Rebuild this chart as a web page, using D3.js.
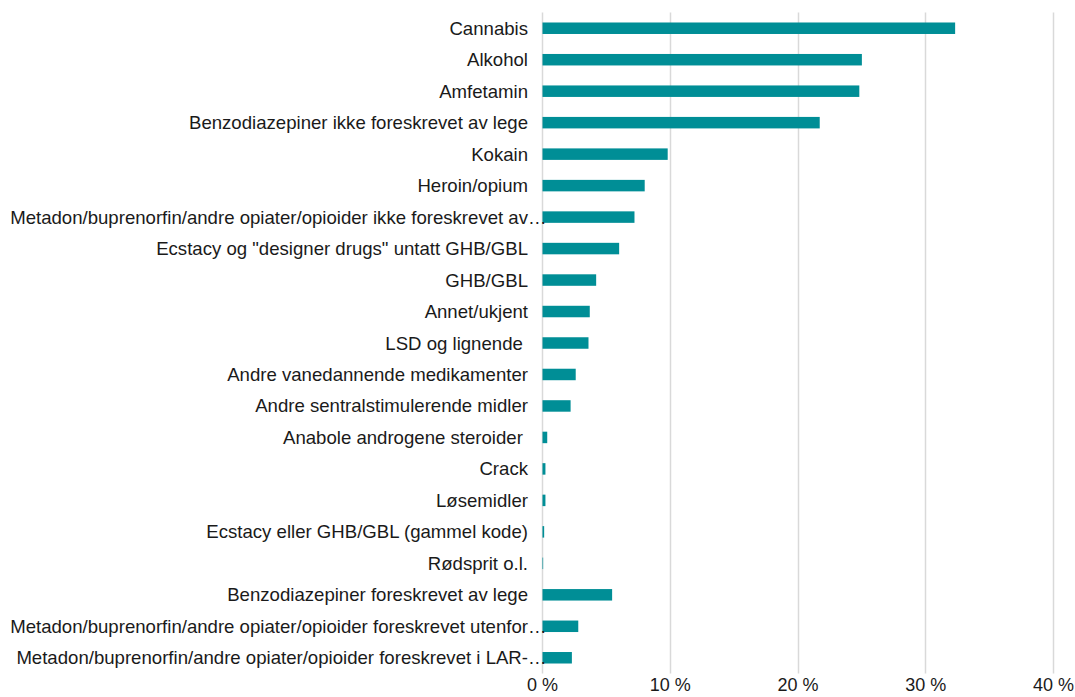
<!DOCTYPE html>
<html>
<head>
<meta charset="utf-8">
<script src="https://cdn.jsdelivr.net/npm/d3@7"></script>
<style>
  body { margin: 0; background: #fff; }
  svg text { font-family: "Liberation Sans", Arial, Helvetica, sans-serif; fill: #1a1a1a; }
</style>
</head>
<body>
<div id="chart"></div>
<script>
// Categories (top to bottom) and their shares
var categories = [
  "Cannabis",
  "Alkohol",
  "Amfetamin",
  "Benzodiazepiner ikke foreskrevet av lege",
  "Kokain",
  "Heroin/opium",
  "Metadon/buprenorfin/andre opiater/opioider ikke foreskrevet av…",
  "Ecstacy og \"designer drugs\" untatt GHB/GBL",
  "GHB/GBL",
  "Annet/ukjent",
  "LSD og lignende ",
  "Andre vanedannende medikamenter",
  "Andre sentralstimulerende midler",
  "Anabole androgene steroider ",
  "Crack",
  "Løsemidler",
  "Ecstacy eller GHB/GBL (gammel kode)",
  "Rødsprit o.l.",
  "Benzodiazepiner foreskrevet av lege",
  "Metadon/buprenorfin/andre opiater/opioider foreskrevet utenfor…",
  "Metadon/buprenorfin/andre opiater/opioider foreskrevet i LAR-…"
];

var shares = [
  0.323, 0.250, 0.248, 0.217, 0.098, 0.080, 0.072, 0.060, 0.042, 0.037,
  0.036, 0.026, 0.022, 0.0037, 0.0023, 0.0023, 0.0013, 0.0005, 0.0545,
  0.028, 0.023
];

var tickValues = [0, 0.1, 0.2, 0.3, 0.4];

var svgWidth = 1075;
var svgHeight = 697;

var margin = { top: 12.5, right: 22, bottom: 23.5, left: 542 };
var chartWidth = svgWidth - margin.left - margin.right;
var chartHeight = svgHeight - margin.top - margin.bottom;

var data = categories.map(function(c, i) {
  return { label: c, value: shares[i] };
});

var svg = d3.select("#chart")
  .append("svg")
  .attr("width", svgWidth)
  .attr("height", svgHeight);

var chartGroup = svg.append("g")
  .attr("transform", `translate(${margin.left}, ${margin.top})`);

var xScale = d3.scaleLinear()
  .domain([0, 0.4])
  .range([0, chartWidth]);

var yScale = d3.scaleBand()
  .domain(categories)
  .range([0, chartHeight])
  .paddingInner(0.635)
  .paddingOuter(0.3175);

// gridlines
chartGroup.selectAll(".grid")
  .data(tickValues)
  .enter()
  .append("line")
  .attr("x1", d => Math.round(xScale(d)) + 0.5)
  .attr("x2", d => Math.round(xScale(d)) + 0.5)
  .attr("y1", 0)
  .attr("y2", chartHeight)
  .attr("stroke", "#d9d9d9")
  .attr("stroke-width", 1.5);

// bars
chartGroup.selectAll("rect")
  .data(data)
  .enter()
  .append("rect")
  .attr("x", xScale(0) + 0.5)
  .attr("y", d => yScale(d.label))
  .attr("width", d => xScale(d.value))
  .attr("height", yScale.bandwidth())
  .attr("fill", "#008e96");

// category labels
var labelX = -14;
chartGroup.selectAll(".cat")
  .data(data)
  .enter()
  .append("text")
  .attr("class", "cat")
  .attr("x", labelX)
  .attr("y", d => yScale(d.label) + yScale.bandwidth() / 2)
  .attr("dy", "0.35em")
  .attr("text-anchor", "end")
  .attr("font-size", "18.6px")
  .style("white-space", "pre")
  .text(d => d.label.endsWith("…") ? d.label.slice(0, -1) : d.label);

// ellipsis for truncated labels
chartGroup.selectAll(".ell")
  .data(data.filter(d => d.label.endsWith("…")))
  .enter()
  .append("text")
  .attr("class", "ell")
  .attr("x", labelX)
  .attr("y", d => yScale(d.label) + yScale.bandwidth() / 2)
  .attr("dy", "0.35em")
  .attr("font-size", "18.6px")
  .text("…");

// x axis
var bottomAxis = d3.axisBottom(xScale)
  .tickValues(tickValues)
  .tickSize(0)
  .tickPadding(5)
  .tickFormat(d => Math.round(d * 100) + " %");

var axisG = chartGroup.append("g")
  .attr("transform", `translate(0, ${chartHeight})`)
  .call(bottomAxis);

axisG.select(".domain").remove();
axisG.selectAll("text")
  .attr("font-size", "18px")
  .attr("font-family", "Liberation Sans, Arial, Helvetica, sans-serif")
  .attr("fill", "#1a1a1a");
</script>
</body>
</html>
